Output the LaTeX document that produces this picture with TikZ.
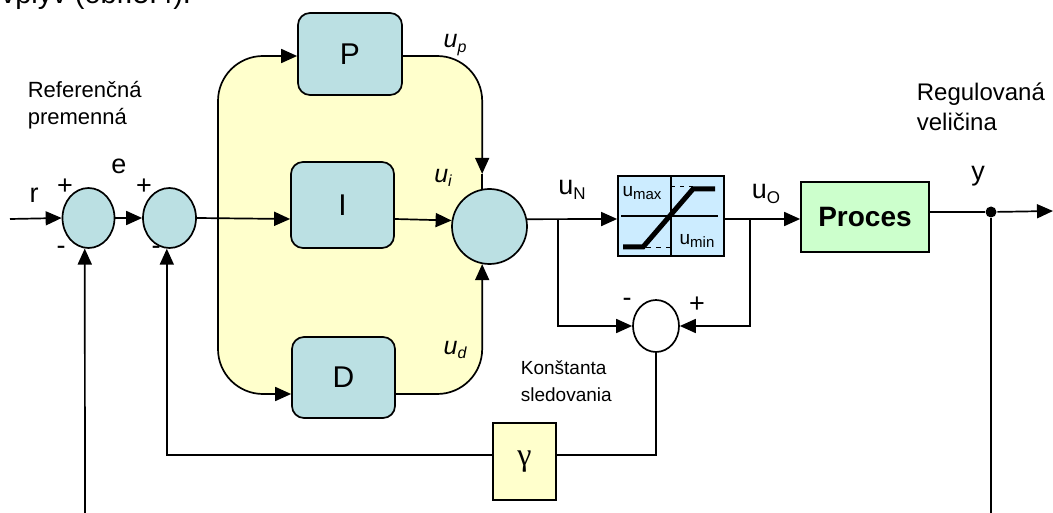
\documentclass[tikz,border=0pt]{standalone}
\usepackage{fontspec}
\setmainfont{Liberation Sans}
\newfontfamily\grfont{Liberation Serif}
\usetikzlibrary{shapes.geometric,arrows.meta,calc}
\newcommand\fsz[1]{\fontsize{#1}{#1}\selectfont}
\newcommand\lsub[3]{#1\raisebox{-0.35ex}{\fsz{#3}#2}}
\definecolor{tealfill}{HTML}{BBE0E3}
\definecolor{yelfill}{HTML}{FFFFCC}
\definecolor{satfill}{HTML}{CCECFF}
\definecolor{procfill}{HTML}{CCFFCC}
\begin{document}
\begin{tikzpicture}[x=1pt,y=-1pt,line width=1.7pt,
  arr/.style={-{Triangle[length=16pt,width=14pt]}},
  sumnode/.style={draw,ellipse,fill=tealfill,inner sep=0},
  blk/.style={draw,rectangle,rounded corners=12,fill=tealfill,inner sep=0,font=\fsz{30}},
  lbl/.style={inner sep=0,font=\fsz{27}},
  ital/.style={inner sep=0,font=\fsz{25}\itshape},
  txt/.style={inner sep=0,align=left,anchor=north west}]
\useasboundingbox (0,0) rectangle (1053,513);
\clip (0,0) rectangle (1053,513);
% partially visible text at top
\node[inner sep=0,anchor=base west,font=\fsz{29}] (top) at (0,4) {vplyv (obr.5.4).};
% yellow PID area
\node[fill=yelfill,rounded corners=45,minimum width=264,minimum height=338,inner sep=0] (pid) at (350,225) {};
% nodes
\node[sumnode,minimum width=52,minimum height=60] (s1) at (88.5,218) {};
\node[sumnode,minimum width=53,minimum height=60] (s2) at (169.5,218) {};
\node[draw,circle,fill=tealfill,minimum size=75,inner sep=0] (s3) at (489.5,226.5) {};
\node[blk,minimum width=104,minimum height=82] (P) at (350,54) {P};
\node[blk,minimum width=103,minimum height=86] (I) at (342.5,205) {I};
\node[blk,minimum width=103,minimum height=81] (D) at (343.5,377.5) {D};
\node[draw,rectangle,fill=satfill,minimum width=106,minimum height=80,inner sep=0] (sat) at (671,216) {};
\node[draw,rectangle,fill=procfill,minimum width=128,minimum height=70,inner sep=0,font=\fsz{28}\bfseries] (proc) at (865,217) {Proces};
\node[draw,ellipse,fill=white,minimum width=46,minimum height=52,inner sep=0] (s4) at (656,326) {};
\node[draw,rectangle,fill=yelfill,minimum width=63,minimum height=77,inner sep=0,font=\fsz{32}\grfont] (gam) at (524.5,461.5) {γ};
\node[circle,fill=black,inner sep=0,minimum size=11] (dot) at (991,212) {};
% coordinates
\coordinate (rin) at (10,219);
\coordinate (br) at (218,219);
\coordinate (tl) at (0,56);
\coordinate (bl) at (0,394);
\coordinate (nN) at (558,219);
\coordinate (nO) at (750,219);
\coordinate (gl) at (0,455);
\coordinate (yout) at (1053,211);
\coordinate (fb1) at (85,513);
\coordinate (ybot) at (991,513);
\coordinate (ptip) at ($(s3.101)+(0,-15)$);
% connectors
\draw[arr] (rin) -- (s1.west);
\draw[arr] (s1.east) -- (s2.west);
\draw[arr] (s2.east) -- (I.west |- br);
\draw[arr,rounded corners=45] (br) |- (P.west |- tl);
\draw[arr,rounded corners=45] (br) |- (D.west |- bl);
\draw[arr,rounded corners=45] (P.east |- tl) -| (ptip);
\draw (ptip) -- (s3.101);
\draw[arr,rounded corners=45] (D.east |- bl) -| (s3.259);
\draw[arr] (I.east |- br) -- (s3.171);
\draw[arr] (s3.11) -- (sat.west |- nN);
\draw[arr] (sat.east |- nN) -- (proc.west |- nN);
\draw (proc.east |- dot) -- (dot);
\draw[arr] (dot) -- (yout);
\draw (dot) -- (ybot);
\draw[arr] (fb1) -- (s1.263);
\draw[arr] (nN) |- (s4.west);
\draw[arr] (nO) |- (s4.east);
\draw (s4.south) |- (gam.east |- gl);
\draw[arr] (gam.west |- gl) -| (s2.265);
% saturation characteristic
\draw[line width=1.2pt] (sat.north) -- (sat.south);
\draw[line width=1.2pt] ($(sat.west)+(4,0)$) coordinate (hl) -- ($(sat.east)+(-7,0)$) coordinate (hr);
\draw[line width=1pt,dash pattern=on 4pt off 5pt] ($(sat.north)+(0,11)$) -- ++(22,0);
\draw[line width=1pt,dash pattern=on 5pt off 5pt] ($(sat.south)+(-25,-9)$) -- ++(25,0);
\draw[line width=5pt] ($(sat.center)+(-48,31)$) coordinate (c1) -- ($(sat.center)+(-28,31)$) coordinate (c2) -- ($(sat.center)+(22,-27)$) coordinate (c3) -- ($(sat.center)+(44,-27)$) coordinate (c4);
\node[inner sep=0,font=\fsz{19}] (umax) at (642,193) {\lsub{u}{max}{15}};
\node[inner sep=0,font=\fsz{19}] (umin) at (697,241) {\lsub{u}{min}{15}};
% labels
\node[lbl] (lr) at (34,195) {r};
\node[lbl] (p1) at (65,187) {+};
\node[lbl] (m1) at (61,250) {-};
\node[lbl] (le) at (119,166) {e};
\node[lbl] (p2) at (144,187) {+};
\node[lbl] (m2) at (156,250) {-};
\node[ital] (lup) at (455,45) {\lsub{u}{p}{16}};
\node[ital] (lui) at (443,178) {\lsub{u}{i}{16}};
\node[ital] (lud) at (455,350) {\lsub{u}{d}{16}};
\node[lbl] (luN) at (572,190) {\lsub{u}{N}{17}};
\node[lbl] (luO) at (766,194) {\lsub{u}{O}{17}};
\node[lbl] (ly) at (978,176) {y};
\node[lbl] (m4) at (627,302) {-};
\node[lbl] (p4) at (697,305) {+};
\node[txt,font={\fontsize{22}{27}\selectfont}] (ref) at (27,80) {Referenčná\\premenná};
\node[txt,font={\fontsize{24}{30}\selectfont}] (reg) at (916,82) {Regulovaná\\veličina};
\node[txt,font={\fontsize{19}{27}\selectfont}] (kon) at (520,360) {Konštanta\\sledovania};
\end{tikzpicture}
\end{document}
